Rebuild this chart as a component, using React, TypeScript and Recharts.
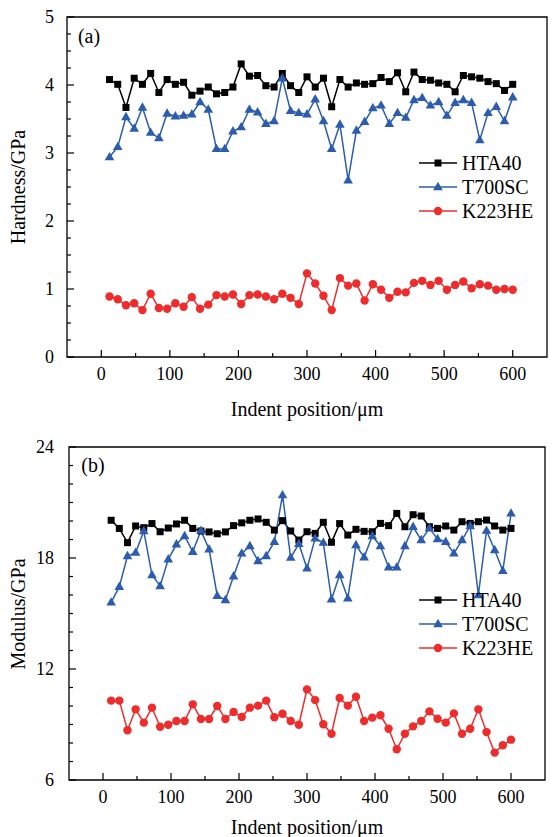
import React from "react";
import { LineChart, Line, XAxis, YAxis, ReferenceArea } from "recharts";

const FONT = '"Liberation Serif", serif';

// indent positions in µm
const indentPositions = [
  12, 24, 36, 48, 60, 72, 84, 96, 108, 120, 132, 144, 156, 168, 180, 192, 204, 216, 228, 240, 252, 264, 276, 288, 300,
  312, 324, 336, 348, 360, 372, 384, 396, 408, 420, 432, 444, 456, 468, 480, 492, 504, 516, 528, 540, 552, 564, 576, 588, 600,
];

// (a) hardness, GPa
const hardnessHTA40 = [
  4.08, 4.01, 3.67, 4.1, 4.01, 4.17, 3.89, 4.08, 4.01, 4.04, 3.85, 3.91, 3.97, 3.87, 3.89, 3.97, 4.31, 4.13, 4.14, 3.99, 3.97, 4.17, 3.99, 3.89, 4.12,
  3.97, 4.1, 3.68, 4.08, 3.97, 4.03, 4.01, 4.02, 4.11, 4.05, 4.18, 3.9, 4.19, 4.08, 4.07, 4.03, 4.01, 3.9, 4.14, 4.12, 4.1, 4.05, 4.02, 3.92, 4.01,
];
const hardnessT700SC = [
  2.94, 3.09, 3.53, 3.36, 3.67, 3.3, 3.22, 3.58, 3.54, 3.55, 3.57, 3.75, 3.64, 3.06, 3.06, 3.32, 3.38, 3.64, 3.6, 3.43, 3.47, 4.1, 3.62, 3.59, 3.57,
  3.79, 3.47, 3.06, 3.42, 2.6, 3.33, 3.46, 3.66, 3.7, 3.43, 3.59, 3.52, 3.78, 3.81, 3.7, 3.75, 3.55, 3.74, 3.78, 3.74, 3.19, 3.59, 3.68, 3.47, 3.82,
];
const hardnessK223HE = [
  0.89, 0.85, 0.76, 0.79, 0.69, 0.93, 0.72, 0.71, 0.79, 0.74, 0.88, 0.71, 0.77, 0.91, 0.89, 0.92, 0.78, 0.91, 0.92, 0.89, 0.85, 0.93, 0.87, 0.78, 1.23,
  1.08, 0.9, 0.69, 1.16, 1.05, 1.08, 0.83, 1.07, 0.99, 0.87, 0.96, 0.95, 1.09, 1.12, 1.06, 1.12, 0.99, 1.06, 1.11, 1.01, 1.07, 1.05, 0.99, 1.0, 0.99,
];

// (b) modulus, GPa
const modulusHTA40 = [
  20.04, 19.6, 18.83, 19.73, 19.64, 19.86, 19.42, 19.62, 19.84, 20.04, 19.6, 19.46, 19.41, 19.31, 19.41, 19.75, 19.9, 20.04, 20.11, 19.93, 19.51, 20.02, 19.46, 18.97, 19.42,
  19.33, 19.93, 18.85, 19.86, 19.24, 19.55, 19.44, 19.42, 19.87, 19.75, 20.41, 19.69, 20.34, 20.27, 19.69, 19.6, 19.73, 19.51, 19.96, 19.87, 19.96, 20.05, 19.73, 19.51, 19.6,
];
const modulusT700SC = [
  15.6, 16.45, 18.11, 18.29, 19.46, 17.08, 16.49, 17.93, 18.74, 19.19, 18.34, 19.48, 18.47, 15.96, 15.73, 17.01, 18.25, 18.65, 17.84, 18.11, 18.88, 21.4, 18.02, 18.77, 17.44,
  19.06, 18.83, 15.77, 17.08, 15.82, 18.7, 18.04, 19.19, 18.65, 17.5, 17.5, 18.65, 19.69, 18.97, 19.6, 19.03, 18.88, 18.25, 18.97, 19.73, 16.0, 19.48, 18.43, 17.31, 20.41,
];
const modulusK223HE = [
  10.29, 10.29, 8.69, 9.82, 9.1, 9.91, 8.88, 8.99, 9.19, 9.19, 10.09, 9.3, 9.3, 10.0, 9.3, 9.68, 9.41, 9.91, 10.02, 10.29, 9.39, 9.58, 9.19, 8.99, 10.9,
  10.32, 9.01, 8.5, 10.43, 10.02, 10.5, 9.19, 9.37, 9.5, 8.77, 7.66, 8.5, 8.9, 9.19, 9.71, 9.31, 9.1, 9.6, 8.5, 8.77, 9.82, 8.59, 7.48, 7.88, 8.18,
];

const xTicks = [0, 50, 100, 150, 200, 250, 300, 350, 400, 450, 500, 550, 600];
const xLabels = [0, 100, 200, 300, 400, 500, 600];
const hardnessTicks = [0, 0.25, 0.5, 0.75, 1, 1.25, 1.5, 1.75, 2, 2.25, 2.5, 2.75, 3, 3.25, 3.5, 3.75, 4, 4.25, 4.5, 4.75, 5];
const hardnessLabels = [0, 1, 2, 3, 4, 5];
const modulusTicks = [6, 7, 8, 9, 10, 11, 12, 13, 14, 15, 16, 17, 18, 19, 20, 21, 22, 23, 24];
const modulusLabels = [6, 12, 18, 24];

const series = [
  { key: "HTA40", color: "#000000", shape: "square" },
  { key: "T700SC", color: "#2b5cad", shape: "triangle" },
  { key: "K223HE", color: "#ee2c2c", shape: "circle" },
];

function Marker({ shape, cx, cy, color }: any) {
  if (cx == null || cy == null) return null;
  if (shape === "square") return <rect x={cx - 3.5} y={cy - 3.5} width={7} height={7} fill={color} />;
  if (shape === "triangle")
    return <polygon points={`${cx},${cy - 5.2} ${cx + 4.8},${cy + 3.2} ${cx - 4.8},${cy + 3.2}`} fill={color} />;
  return <circle cx={cx} cy={cy} r={4.2} fill={color} />;
}

const makeXTick = (props: any) => {
  const { x, y, payload } = props;
  const major = xLabels.includes(payload.value);
  return (
    <g>
      <line x1={x} x2={x} y1={y} y2={y - (major ? 7 : 4)} stroke="#000" strokeWidth={1.2} />
      {major && (
        <text x={x} y={y + 17} textAnchor="middle" dominantBaseline="central" fontSize={18} fontFamily={FONT} fill="#000">
          {payload.value}
        </text>
      )}
    </g>
  );
};

const makeYTick = (labels: number[], gap: number) => (props: any) => {
  const { x, y, payload } = props;
  const major = labels.includes(payload.value);
  return (
    <g>
      <line x1={x} x2={x + (major ? 7 : 4)} y1={y} y2={y} stroke="#000" strokeWidth={1.2} />
      {major && (
        <text x={x - gap} y={y} textAnchor="end" dominantBaseline="central" fontSize={18} fontFamily={FONT} fill="#000">
          {payload.value}
        </text>
      )}
    </g>
  );
};

const LegendBox = ({ left, top }: any) => (
  <div style={{ position: "absolute", left, top, fontFamily: FONT, fontSize: 20, color: "#000" }}>
    {series.map((s) => (
      <div key={s.key} style={{ display: "flex", alignItems: "center", height: 24 }}>
        <svg width={40} height={14} style={{ display: "block" }}>
          <line x1={0} x2={38} y1={7} y2={7} stroke={s.color} strokeWidth={1.5} />
          <Marker shape={s.shape} cx={19} cy={7} color={s.color} />
        </svg>
        <span style={{ marginLeft: 3, lineHeight: "24px", fontFamily: FONT }}>{s.key}</span>
      </div>
    ))}
  </div>
);

function Panel({ data, top, height, marginRight, yWidth, xHeight, domain, ticks, labels }: any) {
  return (
    <div style={{ position: "absolute", left: 0, top, width: 554, height }}>
      <LineChart width={554} height={height} data={data} margin={{ top: 17, right: marginRight, left: 0, bottom: 0 }}>
        <XAxis
          type="number"
          dataKey="x"
          domain={[-50, 650]}
          ticks={xTicks}
          axisLine={false}
          tickLine={false}
          tickSize={0}
          tickMargin={0}
          height={xHeight}
          tick={makeXTick}
          interval={0}
        />
        <YAxis
          type="number"
          domain={domain}
          ticks={ticks}
          axisLine={false}
          tickLine={false}
          tickSize={0}
          tickMargin={0}
          width={yWidth}
          tick={makeYTick(labels, yWidth - 54)}
          interval={0}
        />
        <ReferenceArea x1={-50} x2={650} y1={domain[0]} y2={domain[1]} fill="none" stroke="#000" strokeWidth={1.3} ifOverflow="visible" />
        {series.map((s) => (
          <Line
            key={s.key}
            type="linear"
            dataKey={s.key}
            stroke={s.color}
            strokeWidth={1.5}
            isAnimationActive={false}
            dot={(p: any) => <Marker key={`${s.key}-${p.index}`} shape={s.shape} cx={p.cx} cy={p.cy} color={s.color} />}
            activeDot={false}
          />
        ))}
      </LineChart>
    </div>
  );
}

const hardnessData = indentPositions.map((x, i) => ({
  x,
  HTA40: hardnessHTA40[i],
  T700SC: hardnessT700SC[i],
  K223HE: hardnessK223HE[i],
}));

const modulusData = indentPositions.map((x, i) => ({
  x,
  HTA40: modulusHTA40[i],
  T700SC: modulusT700SC[i],
  K223HE: modulusK223HE[i],
}));

const textStyle: React.CSSProperties = {
  position: "absolute",
  fontFamily: FONT,
  fontSize: 20,
  color: "#000",
  whiteSpace: "nowrap",
  transform: "translate(-50%, -50%)",
};

export default function App() {
  return (
    <div style={{ position: "absolute", left: 0, top: 0, width: 554, height: 837, background: "#fff", overflow: "hidden" }}>
      <Panel
        data={hardnessData}
        top={0}
        height={420}
        marginRight={7}
        yWidth={67}
        xHeight={63}
        domain={[0, 5]}
        ticks={hardnessTicks}
        labels={hardnessLabels}
      />
      <Panel
        data={modulusData}
        top={430}
        height={407}
        marginRight={9}
        yWidth={69}
        xHeight={57}
        domain={[6, 24]}
        ticks={modulusTicks}
        labels={modulusLabels}
      />
      <LegendBox left={419} top={151} />
      <LegendBox left={419} top={588} />
      <div style={{ ...textStyle, left: 89, top: 36 }}>(a)</div>
      <div style={{ ...textStyle, left: 93, top: 465 }}>(b)</div>
      <div style={{ ...textStyle, left: 307, top: 409 }}>Indent position/μm</div>
      <div style={{ ...textStyle, left: 307, top: 827 }}>Indent position/μm</div>
      <div style={{ ...textStyle, left: 18, top: 187, transform: "translate(-50%, -50%) rotate(-90deg)" }}>Hardness/GPa</div>
      <div style={{ ...textStyle, left: 18, top: 614, transform: "translate(-50%, -50%) rotate(-90deg)" }}>Modulus/GPa</div>
    </div>
  );
}
